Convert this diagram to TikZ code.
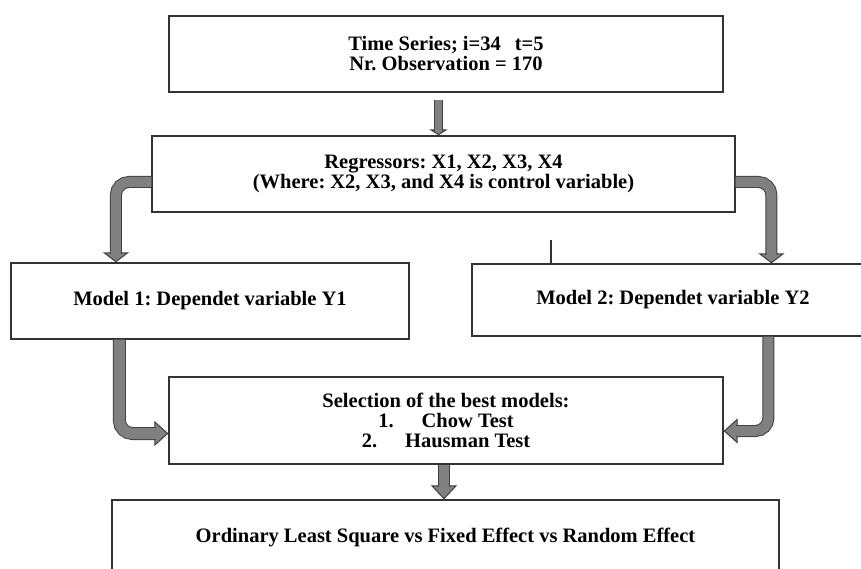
\documentclass[tikz,border=0pt]{standalone}
\usepackage{fontspec}
\setmainfont{Liberation Serif}
\usepackage{tikz}
\usetikzlibrary{arrows.meta}
\frenchspacing

\definecolor{boxline}{HTML}{333333}
\definecolor{arrowline}{HTML}{404040}
\definecolor{arrowfill}{HTML}{808080}

\tikzset{
    stage/.style={draw=boxline, line width=1.2pt, rectangle, inner sep=0pt,
        align=center, font=\fontsize{20.5}{20}\selectfont\bfseries},
    shaft/.style={draw=arrowline, line width=1pt, double=arrowfill,
        double distance=#1, rounded corners=13pt},
    head/.style 2 args={draw=arrowline, line width=1pt,
        -{Triangle[length=#1, width=#2, fill=arrowfill]}},
}

\begin{document}
\begin{tikzpicture}[x=1pt, y=-1pt]
    \useasboundingbox (0, 0) rectangle (861, 569);

    % boxes
    \node[stage, minimum width=554pt, minimum height=76pt] (series) at (446, 54)
        {Time Series; i=34\hspace{14pt}t=5\\Nr. Observation = 170};
    \node[stage, minimum width=583pt, minimum height=76pt] (regs) at (443.5, 174)
        {Regressors: X1, X2, X3, X4\\(Where: X2, X3, and X4 is control variable)};
    \node[stage, minimum width=398pt, minimum height=76pt] (model1) at (210, 301)
        {Model 1: Dependet variable Y1};
    \node[stage, minimum width=402pt, minimum height=72pt] (model2) at (673, 300)
        {Model 2: Dependet variable Y2};
    \node[stage, minimum width=554pt, minimum height=87pt] (select) at (446, 420.5)
        {Selection of the best models:\\
         1.\hspace{28pt}Chow Test\\
         2.\hspace{28pt}Hausman Test};
    \node[stage, minimum width=667pt, minimum height=75pt] (ols) at (445.5, 537.5)
        {Ordinary Least Square vs Fixed Effect vs Random Effect};

    % stray tick on top of model 2
    \coordinate (tick) at (551, 240);
    \draw[boxline, line width=1.2pt] (tick) -- (tick |- model2.north);

    % series -> regressors
    \coordinate (tipA) at ([xshift=-5pt]regs.north);
    \draw[head={6pt}{18pt}] ([yshift=6pt]tipA) -- (tipA);
    \draw[shaft=7pt] ([xshift=-7.5pt, yshift=-7pt]series.south) -- ([yshift=4.5pt]tipA);

    % regressors -> model 1
    \coordinate (tipB) at ([xshift=105.5pt]model1.north west);
    \draw[head={10pt}{26pt}] ([yshift=10pt]tipB) -- (tipB);
    \draw[shaft=10pt] ([yshift=-8pt]regs.west) -| ([yshift=8.5pt]tipB);

    % regressors -> model 2
    \coordinate (tipC) at ([xshift=300pt]model2.north west);
    \draw[head={10pt}{26pt}] ([yshift=10pt]tipC) -- (tipC);
    \draw[shaft=10pt] ([yshift=-8pt]regs.east) -| ([yshift=8.5pt]tipC);

    % model 1 -> selection
    \coordinate (tipD) at ([yshift=-13pt]select.west);
    \draw[head={14pt}{25pt}] ([xshift=-14pt]tipD) -- (tipD);
    \draw[shaft=11pt] ([xshift=109pt]model1.south west) |- ([xshift=-12.5pt]tipD);

    % model 2 -> selection
    \coordinate (tipE) at ([yshift=-10.5pt]select.east);
    \draw[head={14pt}{25pt}] ([xshift=14pt]tipE) -- (tipE);
    \draw[shaft=10pt] ([xshift=297pt]model2.south west) |- ([xshift=12.5pt]tipE);

    % selection -> estimators
    \coordinate (tipF) at ([xshift=-1.5pt]ols.north);
    \draw[head={14pt}{26pt}] ([yshift=14pt]tipF) -- (tipF);
    \draw[shaft=10pt] ([xshift=-2pt]select.south) -- ([yshift=12.5pt]tipF);
\end{tikzpicture}
\end{document}
